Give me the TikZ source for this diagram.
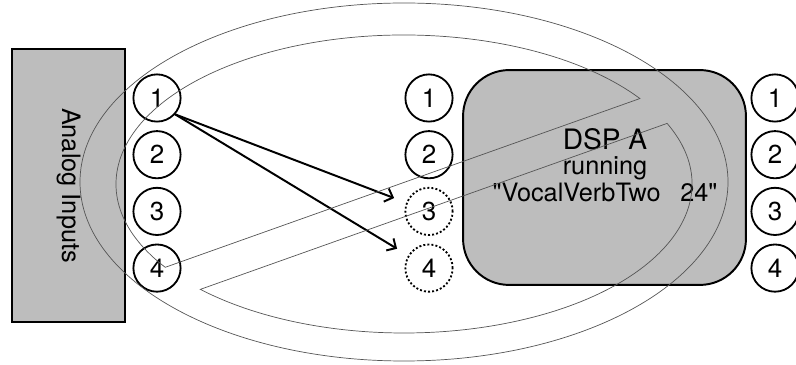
\documentclass[tikz,border=0pt]{standalone}
\usepackage{fontspec}
\setmainfont{TeX Gyre Heros}[Ligatures=TeXOff]
\usetikzlibrary{arrows.meta, calc, positioning}
\definecolor{PanelGrey}{RGB}{189, 189, 189}
\definecolor{HoopGrey}{RGB}{85, 85, 85}

\begin{document}
\begin{tikzpicture}[x=0.025cm, y=-0.025cm,
    port/.style={circle, draw, line width=1.3pt, minimum size=1.18cm, inner sep=0pt, font=\fontsize{18.5}{18}\selectfont},
    freeport/.style={port, dash pattern=on 1.4pt off 1.5pt},
    panel/.style={draw, line width=1.4pt, fill=PanelGrey},
    label/.style={font=\fontsize{18}{18}\selectfont, inner sep=0pt},
    link/.style={-{Straight Barb[length=5pt, width=10pt]}, line width=1.4pt, shorten >=0.32cm},
    hoop/.style={draw=HoopGrey, line width=0.5pt}]

        \useasboundingbox (0,0) rectangle (796,365);

        % Constants
        \def\pitch{56.7}  % vertical distance between ports
        \def\topy{98}     % y of port 1

        % Analog input panel (left)
        \node[panel, minimum width=2.82cm, minimum height=6.82cm] (analog) at (68.5,185.5) {};
        \node[label, rotate=-90] (analogtxt) at (analog) {Analog Inputs};

        % DSP panel
        \node[panel, rounded corners=1.15cm, minimum width=7.07cm, minimum height=5.37cm] (dsp) at (604.5,177.5) {};
        \node[label, anchor=base, font=\fontsize{20}{20}\selectfont] (dspname) at (605,150) {DSP A};
        \node[label, anchor=base] (dsprun) at (605,175) {running};
        \node[label, anchor=base] (dspplug) at (605,202) {"VocalVerbTwo\hspace{14pt}24"};

        % Ports: inputs, DSP inputs (3 and 4 unused), DSP outputs
        \foreach \n in {1,...,4} {
            \node[port] (in\n) at (157, \topy+\pitch*\n-\pitch) {\n};
            \node[port] (out\n) at (775, \topy+\pitch*\n-\pitch) {\n};
        }
        \foreach \n in {1,2} {
            \node[port] (mid\n) at (429, \topy+\pitch*\n-\pitch) {\n};
        }
        \foreach \n in {3,4} {
            \node[freeport] (mid\n) at (429, \topy+\pitch*\n-\pitch) {\n};
        }

        % Routing of input 1
        \draw[link] (in1.-42) -- (mid3);
        \draw[link] (in1.-42) -- (mid4);

        % Prohibition sign over the whole routing
        \coordinate (hub) at (404,182);
        \coordinate (core) at (404,184);
        \draw[hoop] (hub) ellipse [x radius=324, y radius=179];
        \draw[hoop] ($(core)+({288*cos(-35)},{149*sin(-35)})$)
            arc [start angle=-35, end angle=-214, x radius=288, y radius=149] -- cycle;
        \draw[hoop] ($(core)+({288*cos(-24)},{149*sin(-24)})$)
            arc [start angle=-24, end angle=135, x radius=288, y radius=149] -- cycle;

\end{tikzpicture}
\end{document}
